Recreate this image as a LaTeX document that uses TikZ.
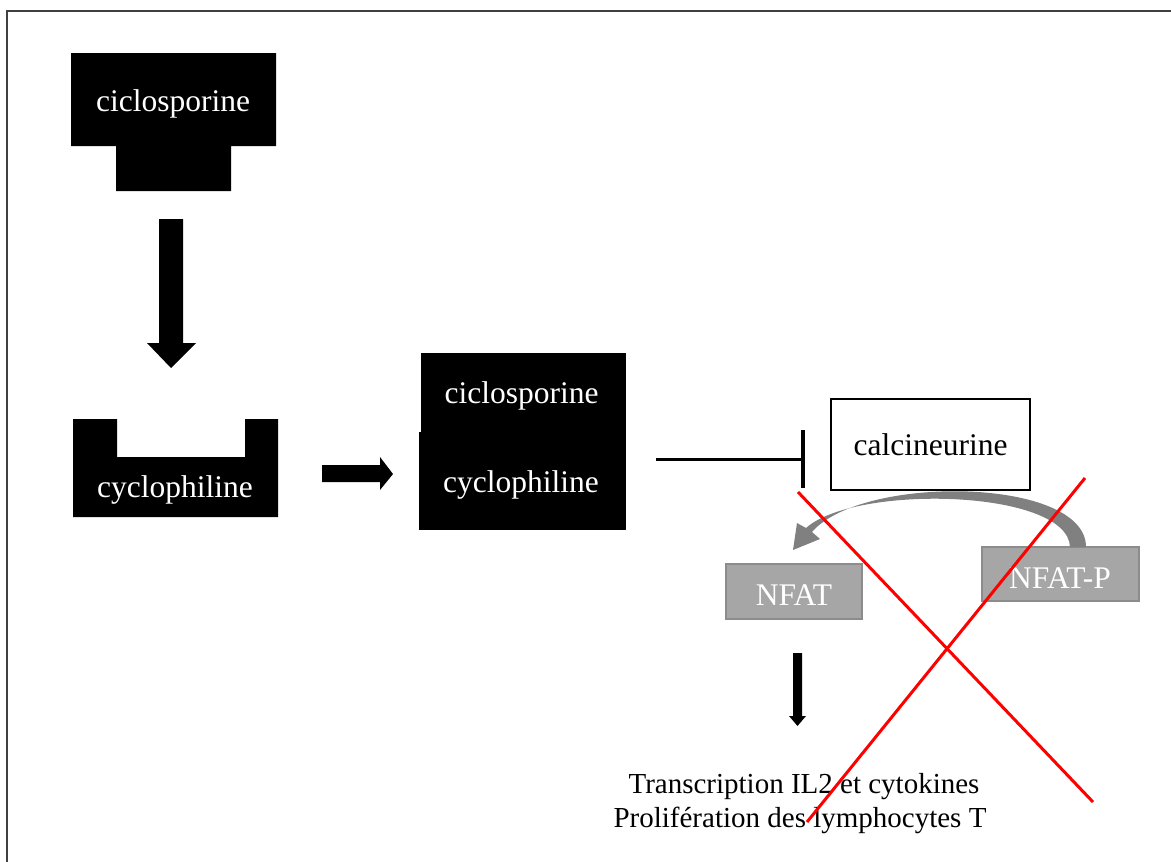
\documentclass[tikz,border=0pt]{standalone}
\usepackage{fontspec}
\setmainfont{Liberation Serif}
\definecolor{boxgray}{HTML}{A6A6A6}
\definecolor{boxedge}{HTML}{8C8C8C}
\definecolor{arrgray}{HTML}{808080}
\definecolor{frame}{HTML}{404040}
\begin{document}
\begin{tikzpicture}[x=1pt,y=-1pt,
  lbl/.style={font=\fontsize{31.5}{34}\selectfont, inner sep=0pt, anchor=base},
  res/.style={font=\fontsize{29}{34}\selectfont, inner sep=0pt, anchor=base},
  blkbox/.style={fill=black, draw=black, line width=0.5pt, inner sep=0pt},
  graybox/.style={fill=boxgray, draw=boxedge, line width=2pt, inner sep=0pt},
  whitebox/.style={fill=white, draw=black, line width=2pt, inner sep=0pt},
  blockarrow/.style={fill=black},
  cross/.style={draw=red, line width=3pt}]
\useasboundingbox (0,0) rectangle (1171,862);
% frame
\draw[frame, line width=1.5pt] (7,862) -- (7,11) -- (1171,11);

% ciclosporine (T shape)
\fill (71,53) -- (276,53) -- (276,146) -- (231,146) -- (231,191) -- (116,191) -- (116,146) -- (71,146) -- cycle;
\node[lbl, text=white] (cic1) at (173,111) {ciclosporine};

% big down arrow
\fill[blockarrow] (159,219) -- (183,219) -- (183,343) -- (196,343) -- (171,368) -- (147,343) -- (159,343) -- cycle;

% cyclophiline (U shape)
\fill (73,419) -- (117,419) -- (117,457) -- (245,457) -- (245,419) -- (278,419) -- (278,517) -- (73,517) -- cycle;
\node[lbl, text=white] (cyc1) at (175,497) {cyclophiline};

% right arrow
\fill[blockarrow] (322,465) -- (380,465) -- (380,457) -- (393,474) -- (380,490) -- (380,482) -- (322,482) -- cycle;

% complex
\node[blkbox, minimum width=204pt, minimum height=80pt] (cplxtop) at (523,393) {};
\node[blkbox, minimum width=206pt, minimum height=97pt] (cplxbot) at (522,480.5) {};
\node[lbl, text=white] (cic2) at (521.5,403) {ciclosporine};
\node[lbl, text=white] (cyc2) at (521,492) {cyclophiline};

% calcineurine
\node[whitebox, minimum width=199pt, minimum height=91pt] (calc) at (930.5,444.5) {};
\node[lbl] (calctxt) at (930.5,455) {calcineurine};

% inhibition
\coordinate (inhS) at (656,459);
\coordinate (inhE) at (803,459);
\draw[line width=3pt] (inhS) -- (inhE);
\draw[line width=3.5pt] ([yshift=-29pt]inhE) -- ([yshift=29pt]inhE);

% NFAT boxes
\node[graybox, minimum width=136pt, minimum height=55pt] (nfat) at (794,591.5) {};
\node[lbl, text=white] (nfattxt) at (794,605) {NFAT};
\node[graybox, minimum width=157pt, minimum height=54pt] (nfatp) at (1060.5,574) {};
\node[lbl, text=white] (nfatptxt) at (1060,588) {NFAT-P};

% curved gray arrow
\fill[arrgray] (1086,547) .. controls (1086,477) and (862,474) .. (812,532)
  -- (820,539) -- (793,550) -- (797,523) -- (806,528)
  .. controls (855,484) and (1068,489) .. (1070,547) -- cycle;

% small down arrow
\fill[blockarrow] (793,653) -- (802,653) -- (802,716) -- (806,716) -- (797.5,726) -- (789,716) -- (793,716) -- cycle;

% result text
\node[res] (res1) at (804,793) {Transcription IL2 et cytokines};
\node[res] (res2) at (800,827) {Prolifération des lymphocytes T};

% red cross
\draw[cross] (798,492) -- (1093,802);
\draw[cross] (1085,478) -- (807,822);
\end{tikzpicture}
\end{document}
